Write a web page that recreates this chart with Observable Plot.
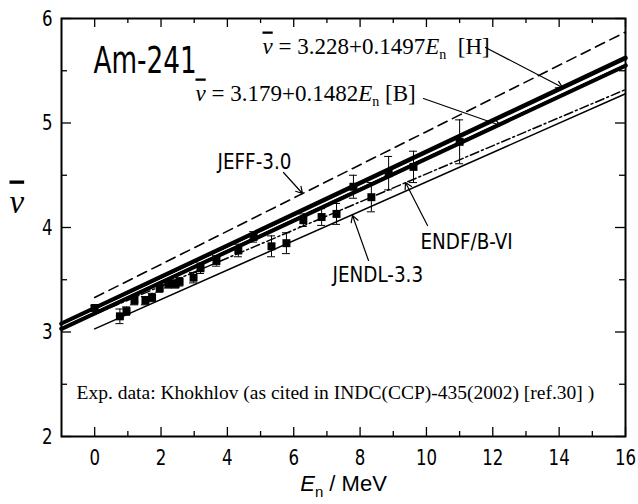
<!DOCTYPE html>
<html><head><meta charset="utf-8">
<script src="https://cdn.jsdelivr.net/npm/d3@7"></script>
<script src="https://cdn.jsdelivr.net/npm/@observablehq/plot@0.6"></script>
<style>body{margin:0;background:#fff} svg{display:block}</style>
</head><body><div id="chart"></div>
<script>
// ---- data ----
const xMajor = [0, 2, 4, 6, 8, 10, 12, 14, 16];
const xMinor = [1, 3, 5, 7, 9, 11, 13, 15];
const yMajor = [2, 3, 4, 5, 6];
const yMinor = [2.5, 3.5, 4.5, 5.5];

const expE   = [0.0, 0.76, 0.96, 1.2, 1.53, 1.73, 1.96, 2.22, 2.44, 2.56, 2.98, 3.19, 3.67, 4.33, 4.79, 5.33, 5.78, 6.29, 6.84, 7.29, 7.8, 8.34, 8.86, 9.61, 11.0];
const expNu  = [3.23, 3.15, 3.20, 3.30, 3.30, 3.33, 3.42, 3.46, 3.46, 3.48, 3.52, 3.61, 3.68, 3.78, 3.91, 3.82, 3.85, 4.07, 4.10, 4.13, 4.39, 4.29, 4.52, 4.58, 4.82];
const expErr = [0.02, 0.07, 0.04, 0.04, 0.04, 0.04, 0.04, 0.04, 0.04, 0.04, 0.05, 0.05, 0.05, 0.06, 0.05, 0.10, 0.10, 0.06, 0.08, 0.10, 0.11, 0.14, 0.16, 0.15, 0.21];

const fitE  = [-1, 16];
const fitH  = [3.078, 5.623];   // [H] 3.228+0.1497 En
const fitB  = [3.031, 5.550];   // [B] 3.179+0.1482 En
const evalE = [0, 16];
const jeff  = [3.33, 5.87];
const endf  = [3.17, 5.32];
const jendl = [3.03, 5.28];

const titleText = "Am-241";
const libLabels = ["JEFF-3.0", "ENDF/B-VI", "JENDL-3.3"];
const eqH = "ν = 3.228+0.1497En [H]";
const eqB = "ν = 3.179+0.1482En [B]";
const captionText = "Exp. data: Khokhlov (as cited in INDC(CCP)-435(2002) [ref.30] )";
const yLabelText = "ν";
const xLabelText = "En / MeV";

// ---- layout ----
const W = 638, H = 504, mL = 61, mR = 13, mT = 18, mB = 68;
const xDom = [-1, 16], yDom = [2, 6];
const kx = (W - mL - mR) / (xDom[1] - xDom[0]);
const ky = (H - mT - mB) / (yDom[1] - yDom[0]);
const ux = p => p / kx, uy = p => p / ky;
const px2x = p => xDom[0] + (p - mL) / kx;
const py2y = p => yDom[1] - (p - mT) / ky;

const NARROW = "'Liberation Sans Narrow','Arial Narrow','DejaVu Sans Condensed',sans-serif";
const SERIF = "'Liberation Serif','Times New Roman',serif";
const SANS = "'Liberation Sans',Arial,sans-serif";

const pts = (xs, ys) => xs.map((x, i) => ({x, y: ys[i]}));
const exp = expE.map((e, i) => ({e, v: expNu[i], err: expErr[i]}));

const labels = [
  {t: titleText, x: px2x(93), y: py2y(72), size: 37},
  {t: libLabels[0], x: px2x(217), y: py2y(168), size: 21.5},
  {t: libLabels[1], x: px2x(420), y: py2y(248), size: 21.5},
  {t: libLabels[2], x: px2x(332), y: py2y(281), size: 21.5}
];
const eqs = [
  {t: eqH, x: px2x(262), y: py2y(53)},
  {t: eqB, x: px2x(195), y: py2y(100)}
];
const arrows = [
  [485, 47, 562, 87], [423, 98, 500, 125], [283, 172, 302, 193],
  [427, 225, 405, 182], [368, 260, 352, 215]
].map(([a, b, c, d]) => ({x1: px2x(a), y1: py2y(b), x2: px2x(c), y2: py2y(d)}));

const tick = (arr, len, side) => {
  if (side === "bottom") return Plot.ruleX(arr, {x: d => d, y1: yDom[0], y2: yDom[0] + uy(len), strokeWidth: 1.3});
  if (side === "top") return Plot.ruleX(arr, {x: d => d, y1: yDom[1], y2: yDom[1] - uy(len), strokeWidth: 1.3});
  if (side === "left") return Plot.ruleY(arr, {y: d => d, x1: xDom[0], x2: xDom[0] + ux(len), strokeWidth: 1.3});
  return Plot.ruleY(arr, {y: d => d, x1: xDom[1], x2: xDom[1] - ux(len), strokeWidth: 1.3});
};

const chart = Plot.plot({
  width: W, height: H,
  marginLeft: mL, marginRight: mR, marginTop: mT, marginBottom: mB,
  x: {domain: xDom}, y: {domain: yDom},
  style: {background: "white", color: "black", overflow: "visible"},
  marks: [
    // evaluations
    Plot.line(pts(evalE, jeff), {x: "x", y: "y", stroke: "black", strokeWidth: 1.6, strokeDasharray: "10,6"}),
    Plot.line(pts(evalE, endf), {x: "x", y: "y", stroke: "black", strokeWidth: 1.5, strokeDasharray: "9,3,2,3"}),
    Plot.line(pts(evalE, jendl), {x: "x", y: "y", stroke: "black", strokeWidth: 1.5}),
    // fits
    Plot.line(pts(fitE, fitH), {x: "x", y: "y", stroke: "black", strokeWidth: 4.5}),
    Plot.line(pts(fitE, fitB), {x: "x", y: "y", stroke: "black", strokeWidth: 4.5}),
    Plot.line(pts(fitE, fitB), {x: "x", y: "y", stroke: "white", strokeWidth: 1, dy: -2.6}),
    // experimental data
    Plot.ruleX(exp, {x: "e", y1: d => d.v - d.err, y2: d => d.v + d.err, strokeWidth: 1}),
    Plot.ruleY(exp, {y: d => d.v + d.err, x1: d => d.e - ux(4), x2: d => d.e + ux(4), strokeWidth: 1}),
    Plot.ruleY(exp, {y: d => d.v - d.err, x1: d => d.e - ux(4), x2: d => d.e + ux(4), strokeWidth: 1}),
    Plot.dot(exp, {x: "e", y: "v", symbol: "square", r: 4.5, fill: "black", stroke: "none"}),
    // ticks
    tick(xMajor, 9, "bottom"), tick(xMajor, 9, "top"), tick(xMinor, 5, "bottom"), tick(xMinor, 5, "top"),
    tick(yMajor, 10, "left"), tick(yMajor, 10, "right"), tick(yMinor, 6, "left"), tick(yMinor, 6, "right"),
    Plot.axisX({ticks: xMajor, tickSize: 0, tickPadding: 13, label: null, fontSize: 22, fontFamily: NARROW, tickFormat: d => String(d)}),
    Plot.axisY({ticks: yMajor, tickSize: 0, tickPadding: 9, label: null, fontSize: 22, fontFamily: NARROW, tickFormat: d => String(d)}),
    Plot.frame({stroke: "black", strokeWidth: 2}),
    // annotations
    ...labels.map(l => Plot.text([l], {x: "x", y: "y", text: "t", textAnchor: "start", lineAnchor: "bottom", fontSize: l.size, fontFamily: NARROW, fill: "black"})),
    Plot.text(eqs, {x: "x", y: "y", text: "t", textAnchor: "start", lineAnchor: "bottom", fontSize: 23, fontFamily: SERIF, fill: "black"}),
    Plot.arrow(arrows, {x1: "x1", y1: "y1", x2: "x2", y2: "y2", stroke: "black", strokeWidth: 1.2, headLength: 9}),
    Plot.text([captionText], {x: px2x(76), y: py2y(398), text: d => d, textAnchor: "start", lineAnchor: "bottom", fontSize: 19.5, fontFamily: SERIF, fill: "black"}),
    Plot.text([yLabelText], {x: px2x(9), y: py2y(212), text: d => d, textAnchor: "start", lineAnchor: "bottom", fontSize: 33, fontFamily: SERIF, fill: "black"}),
    Plot.text([xLabelText], {x: px2x(343), y: py2y(490), text: d => d, textAnchor: "middle", lineAnchor: "bottom", fontSize: 22, fontFamily: SANS, fill: "black"})
  ]
});

// rich text formatting and narrow glyphs
const svg = d3.select(chart);
const squeeze = (el, k) => {
  const tr = el.getAttribute("transform") || "";
  el.setAttribute("transform", `${tr} scale(${k},1)`);
};
svg.selectAll("text").each(function () {
  const t = this.textContent;
  const s = d3.select(this);
  if (t === eqH || t === eqB) {
    const num = t === eqH ? " = 3.228+0.1497" : " = 3.179+0.1482";
    const tail = t === eqH ? "\u00a0\u00a0[H]" : "\u00a0[B]";
    s.text(null);
    s.append("tspan").style("font-style", "italic").style("text-decoration", "overline").text("ν");
    s.append("tspan").text(num);
    s.append("tspan").style("font-style", "italic").text("E");
    s.append("tspan").attr("dy", 5).style("font-size", "14px").text("n");
    s.append("tspan").attr("dy", -5).text(tail);
  } else if (t === yLabelText) {
    s.text(null);
    s.append("tspan").style("font-style", "italic").style("text-decoration", "overline").text("ν");
  } else if (t === xLabelText) {
    s.text(null);
    s.append("tspan").style("font-style", "italic").text("E");
    s.append("tspan").attr("dy", 6).style("font-size", "15px").text("n");
    s.append("tspan").attr("dy", -6).text(" / MeV");
  } else if (t === titleText) {
    squeeze(this, 0.79);
  } else if (libLabels.includes(t)) {
    squeeze(this, 0.95);
  }
});
svg.selectAll('g[aria-label="x-axis tick label"] text, g[aria-label="y-axis tick label"] text').each(function () {
  squeeze(this, 0.84);
});

document.getElementById("chart").appendChild(chart);
</script>
</body></html>
